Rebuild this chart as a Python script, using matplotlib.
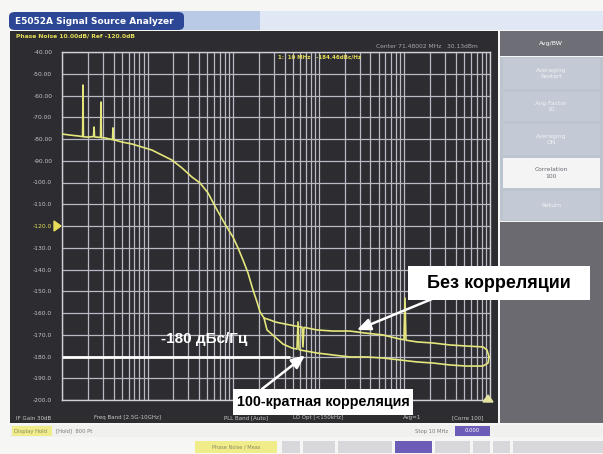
import matplotlib
matplotlib.use("Agg")
import matplotlib.pyplot as plt
from matplotlib.patches import Rectangle, FancyBboxPatch, Polygon
from matplotlib.ticker import LogLocator, NullFormatter, FixedLocator
import numpy as np

W, H = 603, 454

# ---- trace data: offset frequency (Hz) and phase noise (dBc/Hz) ----
f_common = [100, 124, 154, 174, 176, 178, 201, 233, 237, 240, 250, 282, 285, 289,
            318, 389, 394, 400, 416, 502, 657, 860, 1125, 1473, 1928, 2522, 3300,
            4093, 5078, 6471, 8018, 9950, 11380, 13010, 14890, 17030, 18970, 20560, 22910]
pn_common = [-77.7, -78.2, -78.6, -78.9, -55.2, -79.0, -79.1, -78.9, -74.5, -79.0, -79.1,
             -79.3, -63.0, -79.4, -79.5, -80.3, -74.9, -80.4, -80.5, -81.4, -82.3, -83.7,
             -85.1, -87.4, -89.7, -93.3, -97.5, -100.2, -104.8, -112.6, -119.1, -125.1,
             -130.1, -135.6, -141.6, -149.4, -154.9, -159.5, -162.3]

# without correlation
f_single = [26910, 30770, 35220, 46100, 60290, 63680, 65330, 67100, 95270, 146500, 231300,
            346700, 562300, 888800, 988900, 1.016e6, 1.044e6, 1.403e6, 2.158e6, 3.412e6,
            5.385e6, 8.279e6, 9.229e6, 9.73e6]
pn_single = [-163.2, -164.1, -164.6, -165.5, -166.4, -166.5, -175.6, -166.6, -167.8, -168.3,
             -168.3, -169.2, -170.1, -172.0, -172.3, -153.1, -172.5, -173.3, -173.8, -174.7,
             -175.2, -175.6, -177.0, -180.2]

# 100 correlations
f_corr = [24830, 30770, 38190, 48630, 55610, 57150, 58750, 60290, 95270, 146500, 231300,
          365600, 562300, 888800, 1.403e6, 2.158e6, 3.412e6, 5.385e6, 8.279e6, 9.48e6, 9.73e6]
pn_corr = [-167.8, -171.0, -174.3, -176.1, -176.6, -164.1, -176.8, -177.0, -178.4, -179.3,
           -180.2, -180.2, -180.7, -181.6, -182.5, -183.0, -183.9, -184.4, -184.4, -183.0, -180.2]

y_ticks = list(range(-40, -201, -10))
y_labels = ["%.2f" % v if v > -100 else "%.1f" % v for v in y_ticks]
floor_level = -180
floor_end = 46100

status_items = ["IF Gain 30dB", "Freq Band [2.5G-10GHz]", "PLL Band [Auto]",
                "LO Opt [<150kHz]", "Avg=1", "[Corre 100]"]
status_x = [16, 94, 224, 293, 403, 452]

softkeys = ["Averaging\nRestart", "Avg Factor\n10", "Averaging\nON", "Correlation\n100", "Return"]

TRACE = "#e4e67c"
GRID = "#b9bac4"
SCREEN = "#2c2c31"


def fx(x):
    return x / W


def fy(y):
    return 1 - y / H


def rect(fig, x0, y0, x1, y1, color, z=0, **kw):
    fig.add_artist(Rectangle((fx(x0), fy(y1)), (x1 - x0) / W, (y1 - y0) / H,
                             transform=fig.transFigure, facecolor=color,
                             edgecolor=kw.pop("ec", "none"), lw=kw.pop("lw", 0),
                             zorder=z, **kw))


def text(fig, x, y, s, **kw):
    fig.text(fx(x), fy(y), s, **kw)


fig = plt.figure(figsize=(W / 100, H / 100), dpi=100)
fig.patch.set_facecolor("#f6f6f4")

# title bar
rect(fig, 150, 11, 603, 30, "#dfe8f4", z=1)
rect(fig, 120, 11, 260, 30, "#9fb6dc", z=1, alpha=0.6)
fig.add_artist(FancyBboxPatch((fx(9), fy(30)), 175 / W, 18 / H, boxstyle="round,pad=0,rounding_size=0.01",
                              transform=fig.transFigure, facecolor="#2c4796", edgecolor="none", zorder=2))
text(fig, 15, 21, "E5052A Signal Source Analyzer", color="white", fontsize=6.5,
     fontweight="bold", va="center", ha="left", zorder=3)

# instrument screen
rect(fig, 10, 31, 498, 423, SCREEN, z=1)
text(fig, 16, 36, "Phase Noise 10.00dB/ Ref -120.0dB", color="#e6de5a", fontsize=4.3,
     fontweight="bold", va="center", zorder=3)
text(fig, 478, 46, "Center 71.48002 MHz   30.13dBm", color="#a8a8b0", fontsize=4.3,
     va="center", ha="right", zorder=3)

# softkey panel
rect(fig, 500, 31, 603, 56, "#6e6e76", z=1)
text(fig, 551, 43, "Avg/BW", color="white", fontsize=4.5, ha="center", va="center", zorder=3)
rect(fig, 500, 57, 603, 221, "#bcc4d0", z=1)
key_y = [(57, 90), (91, 122), (123, 156), (157, 189), (190, 221)]
for (y0, y1), lab in zip(key_y, softkeys):
    col = "#f4f4f4" if lab.startswith("Corr") else "#c3cad6"
    rect(fig, 503, y0 + 1, 600, y1 - 1, col, z=2)
    text(fig, 551, (y0 + y1) / 2, lab, color="#666670" if col == "#f4f4f4" else "#f2f2f2",
         fontsize=4.3, ha="center", va="center", zorder=3, linespacing=1.3)
rect(fig, 500, 222, 603, 423, "#6a6a70", z=1)

# status line
for s, x in zip(status_items, status_x):
    text(fig, x, 418, s, color="#c8c8cc", fontsize=4.0, va="center", zorder=3)

# lower bars
rect(fig, 10, 425, 603, 437, "#f0f0ee", z=1)
rect(fig, 12, 426, 52, 436, "#f1ec8a", z=2)
text(fig, 14, 431, "Display Hold", color="#8a8a60", fontsize=3.8, va="center", zorder=3)
text(fig, 56, 431, "[Hold]  800 Pt", color="#7a7a80", fontsize=3.8, va="center", zorder=3)
text(fig, 448, 431, "Stop 10 MHz", color="#7a7a80", fontsize=3.8, va="center", ha="right", zorder=3)
rect(fig, 455, 426, 490, 436, "#6d5bb8", z=2)
text(fig, 472, 431, "0.000", color="white", fontsize=3.8, va="center", ha="center", zorder=3)
rect(fig, 195, 441, 277, 453, "#f1ec8a", z=2)
text(fig, 236, 447, "Phase Noise / Meas", color="#8a8a60", fontsize=3.6, va="center",
     ha="center", zorder=3)
for x0, x1, c in [(282, 300, "#d8d8dc"), (303, 335, "#d8d8dc"), (338, 392, "#d8d8dc"),
                  (395, 432, "#6d5bb8"), (435, 470, "#d8d8dc"), (473, 490, "#d8d8dc"),
                  (493, 510, "#d8d8dc"), (513, 603, "#d8d8dc")]:
    rect(fig, x0, 441, x1, 453, c, z=2)

# plot area
ax = fig.add_axes([fx(62), fy(400), 428 / W, 348 / H], zorder=5)
ax.set_facecolor(SCREEN)
ax.set_xscale("log")
ax.set_xlim(100, 1e7)
ax.set_ylim(-200, -40)
ax.xaxis.set_major_locator(LogLocator(base=10, numticks=20))
ax.xaxis.set_minor_locator(LogLocator(base=10, subs=np.arange(2, 10), numticks=100))
ax.xaxis.set_major_formatter(NullFormatter())
ax.xaxis.set_minor_formatter(NullFormatter())
ax.yaxis.set_major_locator(FixedLocator(y_ticks))
ax.set_yticklabels(y_labels)
ax.tick_params(which="both", length=0)
ax.tick_params(axis="y", colors="#c4c4ca", labelsize=4.3, pad=7)
for lab, v in zip(ax.get_yticklabels(), y_ticks):
    if v == -120:
        lab.set_color("#e6de5a")
ax.grid(which="both", axis="x", color=GRID, lw=0.9)
ax.grid(which="major", axis="y", color=GRID, lw=0.9)
for sp in ax.spines.values():
    sp.set_color("#d0d0d6")
    sp.set_linewidth(1.0)

ax.plot(f_common + f_single, pn_common + pn_single, color=TRACE, lw=1.2, zorder=3)
ax.plot(f_common[-1:] + f_corr, pn_common[-1:] + pn_corr, color=TRACE, lw=1.2, zorder=3)

# reference and marker triangles
fig.add_artist(Polygon([[fx(54), fy(221)], [fx(54), fy(231)], [fx(61), fy(226)]],
                       closed=True, transform=fig.transFigure, color="#e6de5a", zorder=6))
fig.add_artist(Polygon([[fx(483), fy(402)], [fx(493), fy(402)], [fx(488), fy(395)]],
                       closed=True, transform=fig.transFigure, color="#e6e4a0", zorder=6))
text(fig, 278, 57, "1:  10 MHz   -184.46dBc/Hz", color="#e6de5a", fontsize=4.0,
     fontweight="bold", va="center", zorder=7)

# annotations
ax.hlines(floor_level, 100, floor_end, color="white", lw=2, zorder=4)
label_font = "Liberation Sans"
text(fig, 204, 339, "-180 дБс/Гц", color="white", fontsize=11, fontweight="bold",
     family=label_font, ha="center", va="center", zorder=8)

fig.add_artist(Rectangle((fx(408), fy(300)), 182 / W, 34 / H, transform=fig.transFigure,
                         facecolor="white", edgecolor="none", zorder=8))
text(fig, 499, 283, "Без корреляции", color="black", fontsize=13, fontweight="bold",
     family=label_font, ha="center", va="center", zorder=9)
fig.add_artist(Rectangle((fx(233), fy(415)), 180 / W, 26 / H, transform=fig.transFigure,
                         facecolor="white", edgecolor="none", zorder=8))
text(fig, 323, 402, "100-кратная корреляция", color="black", fontsize=10.3, fontweight="bold",
     family=label_font, ha="center", va="center", zorder=9)

arrow_kw = dict(arrowstyle="-|>,head_length=0.8,head_width=0.35", color="white", lw=1.8,
                shrinkA=0, shrinkB=0)
ax.annotate("", xy=(279000, -167.8), xycoords="data",
            xytext=(fx(432), fy(299)), textcoords="figure fraction",
            arrowprops=arrow_kw, zorder=7, annotation_clip=False)
ax.annotate("", xy=(69000, -179.5), xycoords="data",
            xytext=(fx(262), fy(389)), textcoords="figure fraction",
            arrowprops=arrow_kw, zorder=7, annotation_clip=False)

fig.savefig("out.png", dpi=100, facecolor=fig.get_facecolor())
